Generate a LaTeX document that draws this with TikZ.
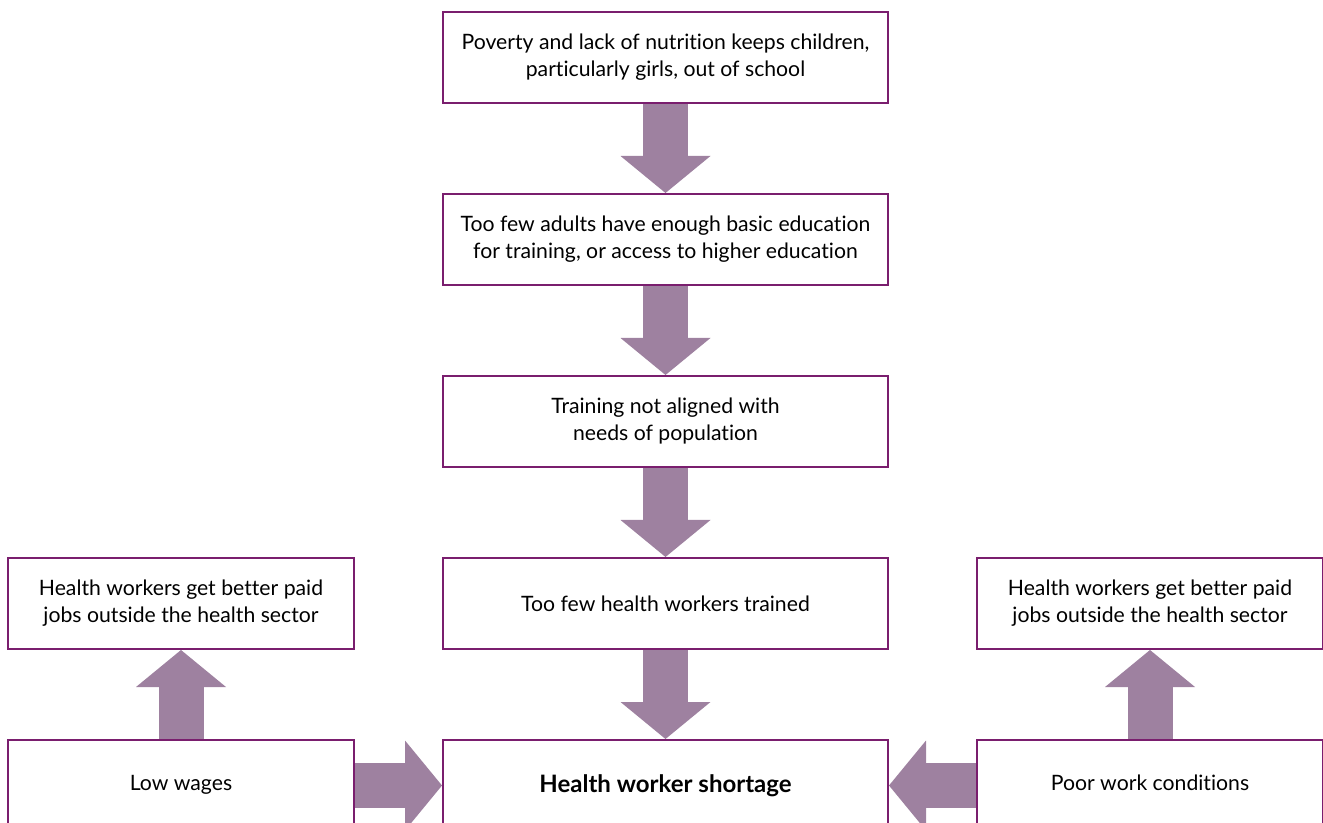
\documentclass[tikz,border=0pt]{standalone}
\usepackage{fontspec}
\setmainfont{Lato}[Ligatures=NoCommon]
\usetikzlibrary{positioning,arrows.meta}
\definecolor{boxline}{RGB}{122,30,110}
\definecolor{arrowfill}{RGB}{158,129,160}
\tikzset{
    causenode/.style = {
        align=center,
        text centered,
        rectangle,
        draw=boxline,
        fill=white,
        line width=1pt,
        minimum width=222.5pt,
        minimum height=45.5pt,
        inner sep=1mm,
        font=\fontsize{10.6}{13.5}\selectfont
    },
    sidenode/.style = {
        causenode,
        minimum width=173pt
    },
    mainnode/.style = {
        causenode,
        font=\fontsize{12}{14}\selectfont\bfseries
    },
    blockarrow/.style = {
        draw=arrowfill,
        line width=22.5pt,
        -{Triangle[length=18.5pt,width=45pt,line width=0pt]}
    }
}

\begin{document}
\begin{tikzpicture}[node distance=44.5pt]
            \useasboundingbox (0,0) rectangle (661.5pt,-411.5pt);
            \node [causenode] (poverty) at (332.75pt,-28.75pt) {Poverty and lack of nutrition keeps children,\\ particularly girls, out of school};
            \node [causenode, below=of poverty] (education) {Too few adults have enough basic education\\ for training, or access to higher education};
            \node [causenode, below=of education] (aligned) {Training not aligned with\\ needs of population};
            \node [causenode, below=of aligned] (trained) {Too few health workers trained};
            \node [mainnode, below=of trained] (shortage) {Health worker shortage};
            \node [sidenode, left=43.5pt of trained] (paidleft) {Health workers get better paid\\ jobs outside the health sector};
            \node [sidenode, right=43.5pt of trained] (paidright) {Health workers get better paid\\ jobs outside the health sector};
            \node [sidenode, left=43.5pt of shortage] (wages) {\strut Low wages};
            \node [sidenode, right=43.5pt of shortage] (conditions) {\strut Poor work conditions};
            % block arrows
            \draw [blockarrow] (poverty) -- (education);
            \draw [blockarrow] (education) -- (aligned);
            \draw [blockarrow] (aligned) -- (trained);
            \draw [blockarrow] (trained) -- (shortage);
            \draw [blockarrow] (wages) -- (shortage);
            \draw [blockarrow] (conditions) -- (shortage);
            \draw [blockarrow] (wages) -- (paidleft);
            \draw [blockarrow] (conditions) -- (paidright);
        \end{tikzpicture}
\end{document}
